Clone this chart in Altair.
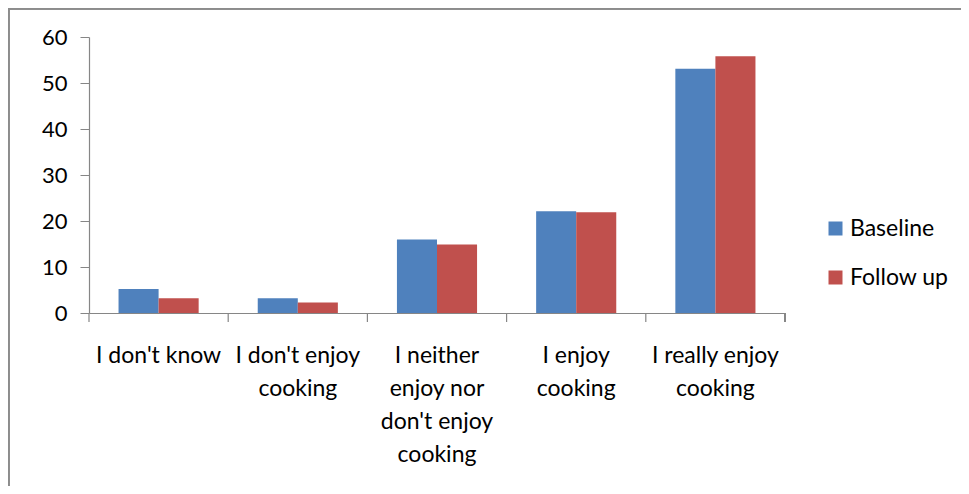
import altair as alt
import pandas as pd

categories = [
    ["I don't know"],
    ["I don't enjoy", "cooking"],
    ["I neither", "enjoy nor", "don't enjoy", "cooking"],
    ["I enjoy", "cooking"],
    ["I really enjoy", "cooking"],
]
series = ["Baseline", "Follow up"]
baseline = [5.2, 3.2, 16.0, 22.1, 53.1]
follow_up = [3.2, 2.3, 14.9, 21.9, 55.8]
colors = ["#4F81BD", "#C0504D"]
y_ticks = [0, 10, 20, 30, 40, 50, 60]

cat_keys = ["|".join(c) for c in categories]
rows = []
for k, b, f in zip(cat_keys, baseline, follow_up):
    rows.append({"cat": k, "series": series[0], "value": b})
    rows.append({"cat": k, "series": series[1], "value": f})
df = pd.DataFrame(rows)
ticks_df = pd.DataFrame({"cat": cat_keys})

FONT = "Lato"
W, H = 696, 276
PL, PT = 81, 29
TOTAL_W, TOTAL_H = 953, 478

xscale = alt.Scale(domain=cat_keys, paddingInner=0, paddingOuter=0)

bars = alt.Chart(df).mark_bar().encode(
    x=alt.X("cat:N", scale=xscale, sort=cat_keys, title=None,
            axis=alt.Axis(ticks=False, labelExpr="split(datum.value, '|')",
                          labelAngle=0, labelFontSize=23, labelLineHeight=33,
                          labelPadding=31, labelColor="#000", labelFont=FONT,
                          domainColor="#868686", domainWidth=1.2,
                          labelBaseline="top", labelLimit=200)),
    xOffset=alt.XOffset("series:N", sort=series,
                        scale=alt.Scale(paddingInner=0, paddingOuter=0.7375)),
    y=alt.Y("value:Q", scale=alt.Scale(domain=[0, 60], nice=False), title=None,
            axis=alt.Axis(values=y_ticks, grid=False, tickSize=9, tickColor="#868686",
                          domainColor="#868686", domainWidth=1.2, labelFontSize=22,
                          labelPadding=13, labelColor="#000", labelFont=FONT)),
    color=alt.Color("series:N", sort=series,
                    scale=alt.Scale(domain=series, range=colors),
                    legend=alt.Legend(title=None, orient="none", legendX=735, legendY=180,
                                      symbolType="square", symbolSize=196,
                                      symbolStrokeWidth=0, labelFontSize=23,
                                      labelFont=FONT, labelColor="#000",
                                      rowPadding=25, labelOffset=3)),
)

xticks = alt.Chart(ticks_df).mark_rule(color="#868686", strokeWidth=1.2).encode(
    x=alt.X("cat:N", scale=xscale, sort=cat_keys, bandPosition=0),
    y=alt.value(H),
    y2=alt.value(H + 9),
)
end_tick = alt.Chart(ticks_df).mark_rule(color="#868686", strokeWidth=1.2).encode(
    x=alt.value(W), y=alt.value(H), y2=alt.value(H + 9)
)
frame_top = alt.Chart(ticks_df).mark_rule(color="#8c8c8c", strokeWidth=2, clip=False).encode(
    x=alt.value(-PL), x2=alt.value(TOTAL_W - PL), y=alt.value(-PT + 0.5)
)
frame_left = alt.Chart(ticks_df).mark_rule(color="#8c8c8c", strokeWidth=2, clip=False).encode(
    x=alt.value(-PL + 0.5), y=alt.value(-PT), y2=alt.value(TOTAL_H - PT)
)

chart = alt.layer(bars, xticks, end_tick, frame_top, frame_left).properties(
    width=W, height=H,
    autosize=alt.AutoSizeParams(type="none"),
    padding={"left": PL, "top": PT, "right": TOTAL_W - PL - W, "bottom": TOTAL_H - PT - H},
).configure(background="white").configure_view(stroke=None, strokeWidth=0)

chart.save("out.html", embed_options={"renderer": "svg", "actions": False})
